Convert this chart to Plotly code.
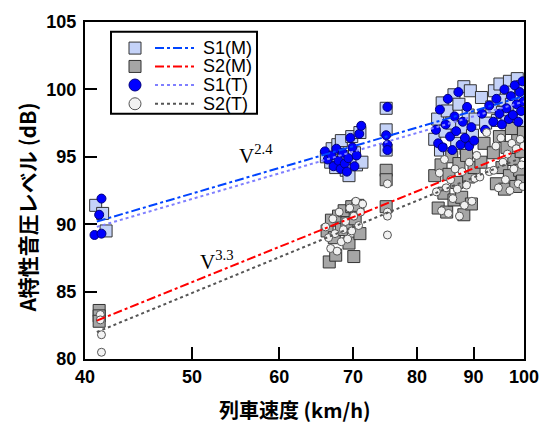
import plotly.graph_objects as go

# ---------------- data ----------------
S1M_V = [40.9, 41.5, 41.8,
         66.2, 66.8, 67.0, 67.5, 67.8, 68.3, 68.6, 69.0, 69.4, 69.8, 70.2, 70.5, 71.0, 71.3, 75.0, 75.0, 75.0,
         83.0, 83.5, 84.0, 84.3, 84.8, 85.2, 85.6, 86.0, 86.4, 86.9, 87.3, 87.8, 88.2, 88.6, 89.0, 89.4, 89.8, 90.3,
         91.5, 92.3,
         93.5, 94.0, 94.6, 95.1, 95.6, 96.1, 96.5, 97.0, 97.4, 97.8, 98.2, 98.6, 99.0, 99.3, 99.6, 99.8]
S1M_L = [91.4, 90.8, 89.5,
         95.0, 94.6, 95.6, 94.2, 95.9, 96.2, 95.0, 94.0, 93.6, 96.5, 95.3, 94.4, 96.8, 94.6, 98.6, 97.0, 95.5,
         96.3, 97.8, 95.5, 99.0, 96.9, 98.4, 95.2, 97.5, 99.6, 96.0, 98.9, 97.2, 100.2, 95.6, 98.1, 99.9, 96.6, 97.8,
         99.4, 97.5,
         98.7, 99.9, 97.7, 100.4, 98.3, 99.2, 97.6, 100.6, 98.9, 99.8, 97.9, 100.8, 98.5, 99.6, 100.2, 97.7]

S2M_V = [41.2, 41.2, 41.2,
         66.3, 66.6, 66.9, 67.3, 67.5, 67.9, 68.3, 68.7, 69.1, 69.4, 69.8, 70.1, 70.3, 70.7, 71.0, 75.0, 75.0, 75.0,
         83.0, 83.6, 84.1, 84.6, 85.1, 85.5, 86.0, 86.4, 86.9, 87.3, 87.8, 88.2, 88.7, 89.1, 89.6, 90.1,
         91.4, 92.0,
         93.8, 94.4, 95.0, 95.5, 96.0, 96.5, 97.0, 97.4, 97.9, 98.3, 98.7, 99.1, 99.4, 99.7, 99.9]
S2M_L = [83.6, 83.2, 82.8,
         89.5, 87.2, 90.3, 89.0, 87.7, 90.6, 89.6, 91.0, 90.1, 88.6, 91.3, 87.6, 90.4, 91.4, 89.3, 94.0, 93.3, 91.3,
         93.6, 91.2, 94.4, 92.3, 90.9, 93.7, 95.0, 91.8, 93.1, 94.5, 92.0, 90.7, 95.1, 93.5, 91.5, 94.2,
         94.6, 96.0,
         95.3, 93.0, 96.5, 94.2, 92.6, 95.7, 93.6, 97.1, 94.8, 92.8, 96.2, 94.0, 95.4, 93.2, 96.8]

S1T_V = [41.4, 41.2, 40.8, 41.4,
         66.0, 66.4, 66.9, 67.2, 67.6, 67.9, 68.2, 68.5, 68.8, 69.1, 69.3, 69.6, 69.9, 70.2, 70.5, 70.9, 71.2,
         75.2, 75.0, 75.2, 75.2,
         83.2, 83.6, 83.9, 84.4, 84.9, 85.3, 85.7, 86.1, 86.5, 86.8, 87.2, 87.6, 88.0, 88.4, 88.8, 89.2, 89.6, 90.1,
         91.6, 92.2, 93.0,
         93.8, 94.4, 95.0, 95.5, 96.0, 96.4, 96.9, 97.3, 97.7, 98.1, 98.5, 98.8, 99.1, 99.4, 99.7, 99.9]
S1T_L = [91.9, 90.7, 89.2, 89.3,
         95.4, 94.8, 95.1, 94.3, 95.6, 94.7, 94.1, 95.3, 94.5, 93.9, 94.9, 96.4, 95.7, 94.3, 95.1, 96.7, 97.3,
         98.7, 96.6, 95.9, 95.5,
         97.0, 96.0, 98.5, 95.7, 97.4, 99.3, 96.5, 95.5, 98.0, 96.9, 99.8, 95.9, 97.6, 96.4, 98.7, 95.8, 97.2, 96.2,
         98.2, 97.0, 98.8,
         97.6, 99.3, 98.2, 97.4, 100.0, 98.6, 97.8, 99.5, 98.1, 100.3, 98.9, 97.6, 99.8, 98.4, 100.6, 99.1]

S2T_V = [41.3, 41.3, 41.4, 41.4,
         66.1, 66.5, 66.8, 67.1, 67.4, 67.7, 68.0, 68.3, 68.6, 68.9, 69.2, 69.5, 69.8, 70.1, 70.4, 70.8, 71.1, 71.4,
         75.2, 75.2, 75.2, 75.2,
         83.3, 83.8, 84.2, 84.7, 85.0, 85.4, 85.8, 86.2, 86.6, 87.0, 87.4, 87.9, 88.3, 88.7, 89.2, 89.7, 90.2, 90.6,
         91.2, 92.5, 93.0,
         93.9, 94.3, 94.8, 95.3, 95.7, 96.2, 96.6, 97.1, 97.5, 97.9, 98.4, 98.8, 99.2, 99.5, 99.8, 99.9]
S2T_L = [83.3, 82.9, 81.8, 80.5,
         89.8, 89.0, 88.2, 90.4, 89.3, 88.0, 90.9, 88.7, 89.6, 90.2, 88.9, 91.2, 89.5, 90.6, 91.7, 89.9, 90.9, 91.5,
         93.0, 90.9, 90.6, 89.2,
         92.4, 93.8, 91.0, 94.8, 92.7, 90.8, 93.3, 91.9, 94.1, 92.6, 90.6, 93.9, 91.4, 92.9, 94.6, 91.7, 93.4, 95.1,
         93.5, 96.8, 93.9,
         94.0, 95.8, 92.7, 96.4, 94.6, 93.3, 95.2, 92.5, 96.0, 94.1, 95.6, 93.0, 96.3, 94.4, 92.8, 95.8]

# regression lines (end points)
FIT_V = [41, 100]
S1M_FIT = [90.2, 99.5]
S2M_FIT = [82.85, 95.65]
S1T_FIT = [89.8, 99.1]
S2T_FIT = [82.0, 95.0]

X_TICKS = [40, 50, 60, 70, 80, 90, 100]
Y_TICKS = [80, 85, 90, 95, 100, 105]
LEGEND_NAMES = ["S1(M)", "S2(M)", "S1(T)", "S2(T)"]

# ---------------- figure ----------------
fig = go.Figure()

fig.add_trace(go.Scatter(x=S1M_V, y=S1M_L, mode="markers", showlegend=False,
                         marker=dict(symbol="square", size=12, color="#c4d2f8",
                                     line=dict(color="#333333", width=1))))
fig.add_trace(go.Scatter(x=S2M_V, y=S2M_L, mode="markers", showlegend=False,
                         marker=dict(symbol="square", size=12, color="#a6a6a6",
                                     line=dict(color="#333333", width=1))))
fig.add_trace(go.Scatter(x=S1T_V, y=S1T_L, mode="markers", showlegend=False,
                         marker=dict(symbol="circle", size=9, color="#0000ff",
                                     line=dict(color="#000080", width=1))))
fig.add_trace(go.Scatter(x=S2T_V, y=S2T_L, mode="markers", showlegend=False,
                         marker=dict(symbol="circle", size=8, color="#f2f2f2",
                                     line=dict(color="#555555", width=1))))

fig.add_trace(go.Scatter(x=FIT_V, y=S1M_FIT, mode="lines", showlegend=False,
                         line=dict(color="#0044ff", width=2, dash="dashdot")))
fig.add_trace(go.Scatter(x=FIT_V, y=S2M_FIT, mode="lines", showlegend=False,
                         line=dict(color="#ff0000", width=2, dash="dashdot")))
fig.add_trace(go.Scatter(x=FIT_V, y=S1T_FIT, mode="lines", showlegend=False,
                         line=dict(color="#7f7fff", width=2, dash="dot")))
fig.add_trace(go.Scatter(x=FIT_V, y=S2T_FIT, mode="lines", showlegend=False,
                         line=dict(color="#555555", width=2, dash="dot")))

# plot-area geometry helpers (pixel -> paper)
L, R, T, B = 85, 524, 14, 359
def px(x):
    return (x - L) / (R - L)
def py(y):
    return (B - y) / (B - T)

shapes = []
annotations = []

# legend box
shapes.append(dict(type="rect", xref="paper", yref="paper",
                   x0=px(111), x1=px(257), y0=py(108), y1=py(24),
                   line=dict(color="black", width=2), fillcolor="white"))
rows = [40.7, 59.5, 78.5, 97.7]
mk = [("rect", "#c4d2f8", "#333333"), ("rect", "#a6a6a6", "#333333"),
      ("circle", "#0000ff", "#000080"), ("circle", "#f2f2f2", "#555555")]
ln = [("#0044ff", "dashdot"), ("#ff0000", "dashdot"), ("#7f7fff", "dot"), ("#555555", "dot")]
for i, ry in enumerate(rows):
    t, fc, lc = mk[i]
    shapes.append(dict(type=t, xref="paper", yref="paper",
                       xsizemode="pixel", ysizemode="pixel",
                       xanchor=px(135), yanchor=py(ry),
                       x0=-6, x1=6, y0=-6, y1=6,
                       fillcolor=fc, line=dict(color=lc, width=1)))
    shapes.append(dict(type="line", xref="paper", yref="paper",
                       x0=px(155), x1=px(194), y0=py(ry), y1=py(ry),
                       line=dict(color=ln[i][0], width=2, dash=ln[i][1])))
    annotations.append(dict(text=LEGEND_NAMES[i], xref="paper", yref="paper",
                            x=px(201), y=py(ry), xanchor="left", yanchor="middle",
                            showarrow=False,
                            font=dict(family="Liberation Sans, Arial", size=18, color="black")))

# exponent labels
annotations.append(dict(text="V<sup>2.4</sup>", xref="paper", yref="paper",
                        x=px(256), y=py(150), xanchor="center", yanchor="middle", showarrow=False,
                        font=dict(family="Liberation Serif, Times New Roman", size=21, color="black")))
annotations.append(dict(text="V<sup>3.3</sup>", xref="paper", yref="paper",
                        x=px(217), y=py(258), xanchor="center", yanchor="middle", showarrow=False,
                        font=dict(family="Liberation Serif, Times New Roman", size=21, color="black")))

# axis titles
annotations.append(dict(text="列車速度 (km/h)", xref="paper", yref="paper",
                        x=px(295), y=py(411), xanchor="center", yanchor="middle", showarrow=False,
                        font=dict(family="Noto Sans CJK JP", size=20, color="black", weight="bold")))
annotations.append(dict(text="A特性音圧レベル (dB)", xref="paper", yref="paper",
                        x=px(27), y=py(204), xanchor="center", yanchor="middle",
                        showarrow=False, textangle=-90,
                        font=dict(family="Noto Sans CJK JP", size=21, color="black", weight="bold")))

tickfont = dict(family="Liberation Sans, Arial", size=18, color="black", weight="bold")

fig.update_layout(
    width=556, height=430,
    margin=dict(l=L, r=556 - R, t=T, b=430 - B),
    paper_bgcolor="white", plot_bgcolor="white",
    showlegend=False,
    shapes=shapes, annotations=annotations,
    xaxis=dict(type="log", range=[1.6020599913, 2.0], tickvals=X_TICKS,
               ticktext=[str(v) for v in X_TICKS],
               ticks="inside", ticklen=12, tickwidth=2, tickcolor="black",
               showline=True, linewidth=2, linecolor="black", mirror=True,
               showgrid=False, zeroline=False, tickfont=tickfont),
    yaxis=dict(range=[80, 105], tickvals=Y_TICKS,
               ticks="inside", ticklen=12, tickwidth=2, tickcolor="black",
               showline=True, linewidth=2, linecolor="black", mirror=True,
               showgrid=False, zeroline=False, tickfont=tickfont,
               ticklabelstandoff=3),
)

fig.write_html("out.html")
